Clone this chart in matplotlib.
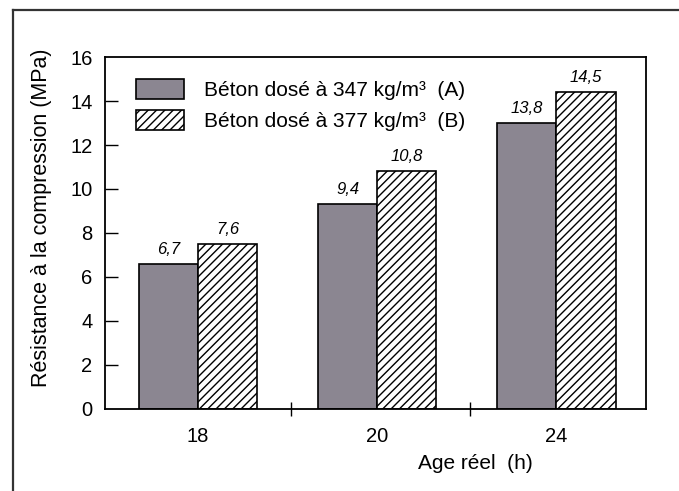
import matplotlib
matplotlib.use("Agg")
import matplotlib.pyplot as plt
from matplotlib.lines import Line2D
import numpy as np

# ---------------------------------------------------------------------------
# Data
# ---------------------------------------------------------------------------
ages = ["18", "20", "24"]
series_names = ["Béton dosé à 347 kg/m³  (A)", "Béton dosé à 377 kg/m³  (B)"]
heights_a = [6.6, 9.3, 13.0]          # bar tops as drawn
heights_b = [7.5, 10.8, 14.4]
labels_a = ["6,7", "9,4", "13,8"]     # values printed above bars
labels_b = ["7,6", "10,8", "14,5"]
y_ticks = [0, 2, 4, 6, 8, 10, 12, 14, 16]

plt.rcParams["font.family"] = ["Liberation Sans", "DejaVu Sans"]
plt.rcParams["hatch.linewidth"] = 1.0

C_A = "#8b8691"
FS = 14.5

fig = plt.figure(figsize=(6.79, 4.91), dpi=100)
ax = fig.add_axes([105 / 679, 1 - 409 / 491, 541 / 679, 352 / 491])

x = np.arange(len(ages))
w = 0.33
bars_a = ax.bar(x - w / 2, heights_a, w, color=C_A, edgecolor="black",
                linewidth=1.2, label=series_names[0])
bars_b = ax.bar(x + w / 2, heights_b, w, color="white", edgecolor="black",
                linewidth=1.2, hatch="////", label=series_names[1])

ax.bar_label(bars_a, labels=labels_a, padding=5, fontsize=12, style="italic")
ax.bar_label(bars_b, labels=labels_b, padding=5, fontsize=12, style="italic")

ax.set_xlim(-0.52, 2.5)
ax.set_ylim(0, 16)

# y axis: inward ticks, none drawn at the corners
ax.set_yticks(y_ticks)
ax.set_yticklabels([str(v) for v in y_ticks])
ax.tick_params(axis="y", direction="in", length=9, width=1.0, pad=9, labelsize=FS)
for t in ax.yaxis.get_major_ticks():
    if t.get_loc() in (0, 16):
        t.tick1line.set_visible(False)
ax.tick_params(axis="y", right=False)

# x axis: labels under groups, separators between groups
ax.set_xticks(x)
ax.set_xticklabels(ages)
ax.tick_params(axis="x", which="major", length=0, pad=13, labelsize=FS)
ax.set_xticks([0.52, 1.52], minor=True)
ax.tick_params(axis="x", which="minor", direction="inout", length=10, width=1.0)

for s in ax.spines.values():
    s.set_linewidth(1.3)

ax.set_ylabel("Résistance à la compression (MPa)", fontsize=15.5)
ax.yaxis.set_label_coords(-0.098, 0.543)
ax.set_xlabel("Age réel  (h)", fontsize=FS + 0.5)
ax.xaxis.set_label_coords(0.684, -0.128)

leg = ax.legend(loc="upper left", bbox_to_anchor=(0.038, 0.966), frameon=False,
                fontsize=15, handlelength=2.3, handleheight=1.1,
                labelspacing=0.45, handletextpad=0.95, borderpad=0)

# page frame around the figure (scan border)
fig.add_artist(Line2D([13 / 679, 1.0], [1 - 10 / 491, 1 - 10 / 491],
                      transform=fig.transFigure, color="#333", lw=1.6))
fig.add_artist(Line2D([13 / 679, 13 / 679], [0, 1 - 10 / 491],
                      transform=fig.transFigure, color="#333", lw=1.6))

fig.savefig("out.png", dpi=100)
